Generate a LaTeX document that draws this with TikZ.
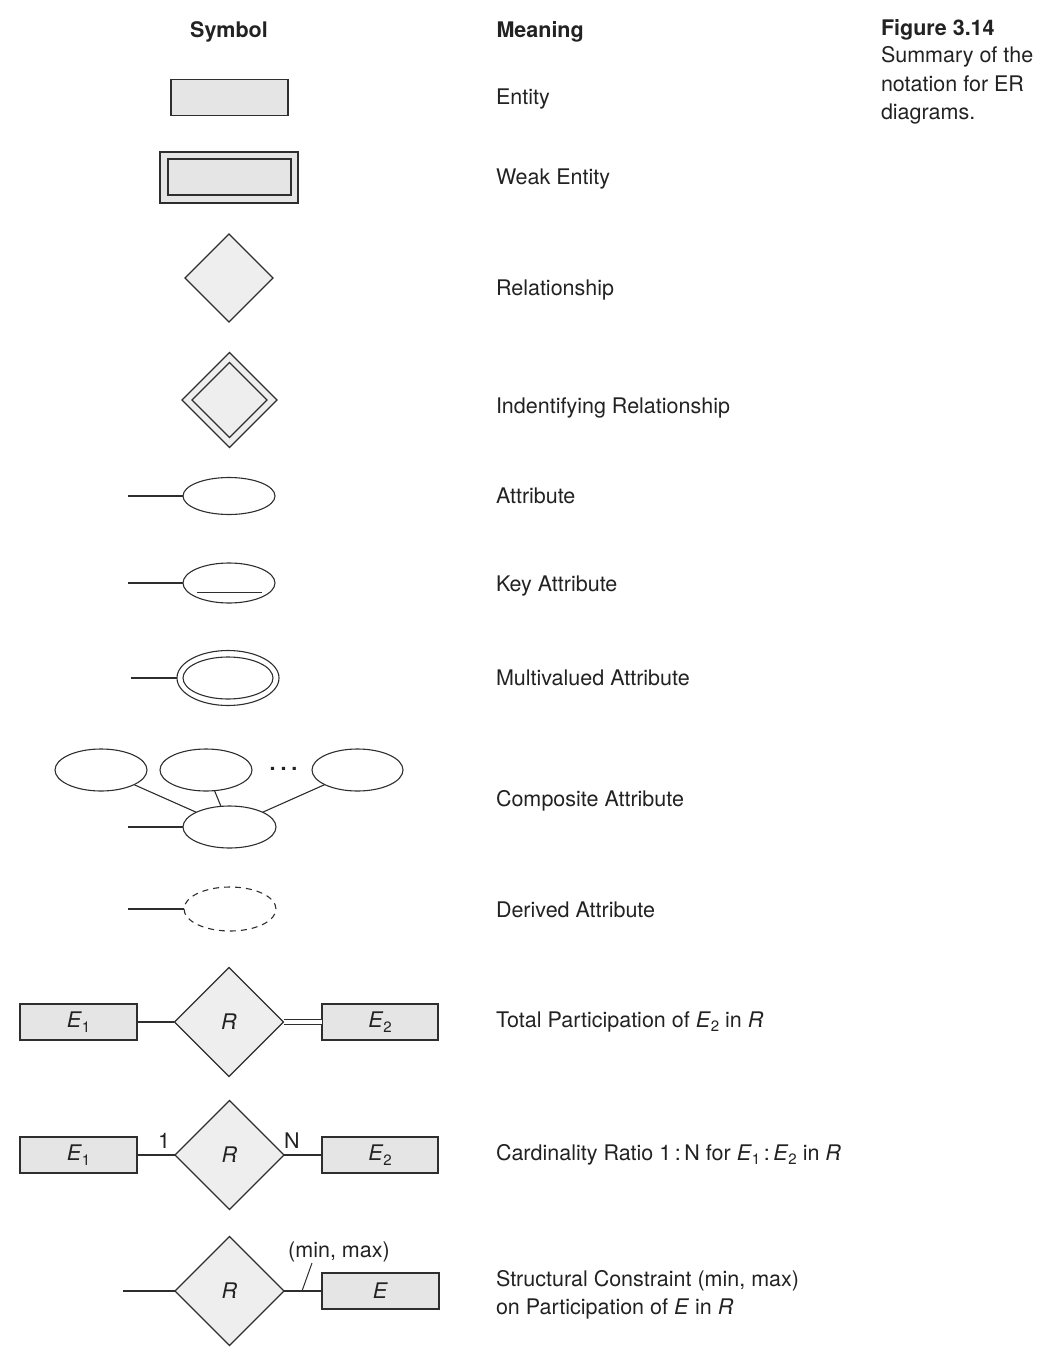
\documentclass[tikz,border=0pt]{standalone}
\usepackage{fontspec}
\setmainfont{TeX Gyre Heros}
\usetikzlibrary{shapes.geometric,calc}
\definecolor{lc}{HTML}{2E2E2E}
\definecolor{tc}{HTML}{222222}
\definecolor{entfill}{HTML}{E5E5E5}
\definecolor{relfill}{HTML}{EEEEEE}
\newcommand\sbs[1]{\raisebox{-0.4ex}{\fontsize{15}{15}\selectfont #1}}
\begin{document}
\begin{tikzpicture}[x=1pt,y=-1pt,
  font=\fontsize{21.5}{28}\selectfont, text=tc, line width=1.1pt, draw=lc,
  ent/.style={draw=lc, fill=entfill, rectangle, inner sep=0pt, outer sep=0pt, minimum width=117pt, minimum height=36pt},
  rel/.style={draw=lc, fill=relfill, diamond, aspect=1, inner sep=0pt, outer sep=0pt},
  relsz/.style={minimum width=#1, minimum height=#1},
  att/.style={draw=lc, ellipse, inner sep=0pt, outer sep=0pt, minimum width=92pt, minimum height=38pt},
  lbl/.style={anchor=base west, inner sep=0pt, outer sep=0pt},
  hdr/.style={anchor=base, inner sep=0pt, font=\fontsize{21.5}{28}\selectfont\bfseries},
  conn/.style={draw=lc, line width=1.1pt}]
\useasboundingbox (0,0) rectangle (1056,1364);

% headers
\node[hdr] (hsym) at (229,38) {Symbol};
\node[hdr, anchor=base west] (hmean) at (496,38) {Meaning};
\node[lbl, font=\fontsize{21.5}{28}\selectfont\bfseries] (fig) at (881,36) {Figure 3.14};
\node[lbl] (cap1) at (881,63) {Summary of the};
\node[lbl] (cap2) at (881,92) {notation for ER};
\node[lbl] (cap3) at (881,120) {diagrams.};

% Entity
\node[ent] (ent) at (229.5,97.5) {};
\node[lbl] (tent) at (496,105) {Entity};

% Weak entity
\node[ent, minimum width=138pt, minimum height=51pt] (wout) at (229,177.5) {};
\node[ent, minimum width=123pt, minimum height=36pt] (win) at (229.5,177) {};
\node[lbl] (twe) at (496,185) {Weak Entity};

% Relationship
\node[rel, relsz=88pt] (rel) at (229,278) {};
\node[lbl] (trel) at (496,295) {Relationship};

% Identifying relationship
\node[rel, relsz=95pt] (irout) at (229.5,400) {};
\node[rel, relsz=75pt] (irin) at (229.5,400) {};
\node[lbl] (tir) at (496,413) {Indentifying Relationship};

% Attribute
\coordinate (a0) at (128,496);
\node[att, minimum height=37pt] (att) at (229,496) {};
\draw[conn] (a0) -- (att);
\node[lbl] (tatt) at (496,503) {Attribute};

% Key attribute
\coordinate (k0) at (128,583);
\node[att, minimum height=40pt] (key) at (229,583) {};
\draw[conn] (k0) -- (key);
\draw[conn, line width=1pt] ($(key.center)+(-32,9)$) -- ++(65,0);
\node[lbl] (tkey) at (496,591) {Key Attribute};

% Multivalued attribute
\coordinate (m0) at (131,678);
\node[att, minimum width=102pt, minimum height=55pt] (mvo) at (228,678) {};
\node[att, minimum width=90pt, minimum height=42pt] (mvi) at (228,678) {};
\draw[conn] (m0) -- (mvo);
\node[lbl] (tmv) at (496,685) {Multivalued Attribute};

% Composite attribute
\node[att, minimum height=42pt] (c1) at (101,770) {};
\node[att, minimum height=42pt] (c2) at (206,770) {};
\node[att, minimum width=91pt, minimum height=42pt] (c3) at (357.5,770) {};
\node[anchor=center, inner sep=0pt, font=\fontsize{21.5}{28}\selectfont\bfseries] (cdots) at (283.5,769) {.\hspace{5pt}.\hspace{5pt}.};
\node[att, minimum width=93pt, minimum height=42pt] (cb) at (229.5,827) {};
\coordinate (c0) at (128,827);
\draw[conn] (c0) -- (cb);
\draw[conn] (c1) -- (cb);
\draw[conn] (c2) -- (cb);
\draw[conn] (c3) -- (cb);
\node[lbl] (tcomp) at (496,806) {Composite Attribute};

% Derived attribute
\coordinate (d0) at (128,909);
\node[att, minimum height=44pt, dash pattern=on 6pt off 5pt] (der) at (230,909) {};
\draw[conn] (d0) -- (der);
\node[lbl] (tder) at (496,917) {Derived Attribute};

% Total participation
\node[ent] (te1) at (78.5,1022) {\textit{E}\sbs{1}};
\node[rel, relsz=109pt] (tr) at (229,1022) {\textit{R}};
\node[ent, minimum width=116pt] (te2) at (380,1022) {\textit{E}\sbs{2}};
\draw[conn] (te1) -- (tr);
\draw[conn, line width=1pt, double=white, double distance=4.5pt] (tr.east) -- (te2.west);
\node[lbl] (ttot) at (496,1027) {Total Participation of \textit{E}\sbs{2} in \textit{R}};

% Cardinality ratio
\node[ent] (ce1) at (78.5,1155) {\textit{E}\sbs{1}};
\node[rel, relsz=109pt] (cr) at (229.5,1155) {\textit{R}};
\node[ent, minimum width=116pt] (ce2) at (380,1155) {\textit{E}\sbs{2}};
\draw[conn] (ce1) -- (cr);
\draw[conn] (cr) -- (ce2);
\node[anchor=base, inner sep=0pt] (one) at (164,1148) {1};
\node[anchor=base, inner sep=0pt] (nn) at (292,1148) {N};
\node[lbl] (tcard) at (496,1160) {Cardinality Ratio 1\,:\,N for \textit{E}\sbs{1}\,:\,\textit{E}\sbs{2} in \textit{R}};

% Structural constraint
\coordinate (s0) at (123,1291);
\node[rel, relsz=109pt] (sr) at (229.5,1291) {\textit{R}};
\node[ent] (se) at (380.5,1291) {\textit{E}};
\draw[conn] (s0) -- (sr);
\draw[conn] (sr) -- (se);
\node[anchor=base, inner sep=0pt] (mm) at (339,1257) {(min, max)};
\coordinate (tk) at (302,1291);
\coordinate (tk2) at (312,1263);
\draw[conn, line width=1pt] (tk) -- (tk2);
\node[lbl] (tst1) at (496,1286) {Structural Constraint (min, max)};
\node[lbl] (tst2) at (496,1314) {on Participation of \textit{E} in \textit{R}};
\end{tikzpicture}
\end{document}
